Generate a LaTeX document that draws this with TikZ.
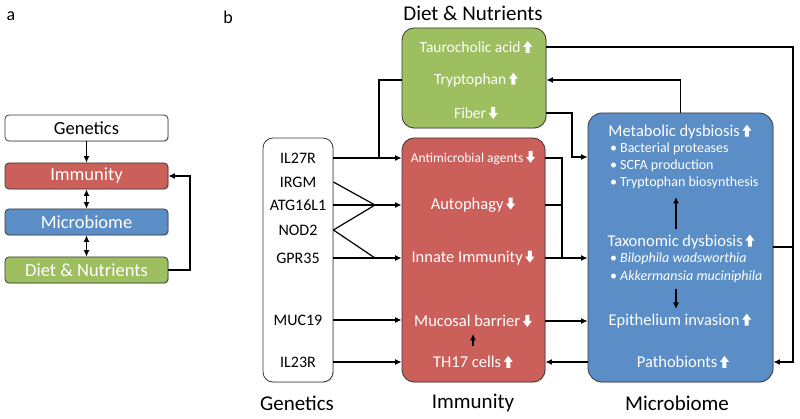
\documentclass[tikz,border=0pt]{standalone}
\usepackage{fontspec}
\setmainfont{Carlito}
\usetikzlibrary{arrows.meta,shadows}
\definecolor{cred}{HTML}{CB5F5A}
\definecolor{cgreen}{HTML}{9DBF5F}
\definecolor{cblue}{HTML}{5B8EC7}
\definecolor{cedge}{HTML}{3A3A3A}
\newcommand{\upA}{\kern2.5pt\tikz[baseline=0pt,x=1pt,y=1pt]\fill[white] (-2,0) -- (-2,6) -- (-4.6,6) -- (0,12) -- (4.6,6) -- (2,6) -- (2,0) -- cycle;}
\newcommand{\dnA}{\kern2.5pt\tikz[baseline=0pt,x=1pt,y=1pt]\fill[white] (-2,12) -- (-2,6) -- (-4.6,6) -- (0,0) -- (4.6,6) -- (2,6) -- (2,12) -- cycle;}
\newcommand{\bulA}{\textbullet\kern3pt}
\begin{document}
\begin{tikzpicture}[x=1pt,y=-1pt,
  box/.style={draw=cedge,line width=0.8pt,inner sep=0pt,
    drop shadow={opacity=0.25,shadow xshift=1pt,shadow yshift=-1pt}},
  abox/.style={box,rounded corners=4pt,minimum width=163pt,minimum height=26pt,
    font=\fontsize{18.5}{20}\selectfont},
  conn/.style={line width=1.2pt,black},
  arr/.style={conn,-{Latex[length=6.5pt,width=6pt]}},
  darr/.style={conn,{Latex[length=6.5pt,width=6pt]}-{Latex[length=6.5pt,width=6pt]}},
  gene/.style={font=\fontsize{16}{18}\selectfont,inner sep=1pt},
  wt/.style={text=white,font=\fontsize{16.5}{18}\selectfont,inner sep=1pt},
  wts/.style={text=white,font=\fontsize{15.5}{17}\selectfont,inner sep=1pt},
  bul/.style={text=white,font=\fontsize{14}{16}\selectfont,inner sep=1pt,anchor=west},
  lab/.style={font=\fontsize{21}{23}\selectfont},
  panel/.style={font=\fontsize{18}{20}\selectfont}]
\useasboundingbox (0,0) rectangle (800,419);

% panel a
\node[panel] (pa) at (11,16) {a};
\node[abox,fill=white] (ga) at (86.5,128) {Genetics};
\node[abox,fill=cred,text=white] (ia) at (86.5,176) {Immunity};
\node[abox,fill=cblue,text=white] (ma) at (86.5,222) {Microbiome};
\node[abox,fill=cgreen,text=white] (da) at (86.5,270) {Diet \& Nutrients};
\draw[arr] (ga) -- (ia);
\draw[darr] (ia) -- (ma);
\draw[darr] (ma) -- (da);
\coordinate (aj) at (190,270);
\draw[arr] (da.east) -- (aj) |- (ia.east);

% panel b
\node[panel] (pb) at (228,17) {b};
\node[lab] (tdiet) at (473,13) {Diet \& Nutrients};
\node[lab] (tgen) at (297,403) {Genetics};
\node[lab] (timm) at (473,403) {Immunity};
\node[lab] (tmic) at (677,403) {Microbiome};

\node[box,fill=cgreen,rounded corners=12pt,minimum width=144pt,minimum height=100pt] (green) at (474,78) {};
\node[box,fill=white,rounded corners=10pt,minimum width=70pt,minimum height=244pt] (gen) at (298,260) {};
\node[box,fill=cred,rounded corners=12pt,minimum width=143pt,minimum height=244pt] (red) at (473.5,260) {};
\node[box,fill=cblue,rounded corners=14pt,minimum width=185pt,minimum height=269pt] (blue) at (680.5,247.5) {};

% green texts
\node[wts] (tauro) at (476,47) {Taurocholic acid\upA};
\node[wts] (tryp) at (476,80) {Tryptophan\upA};
\node[wts] (fiber) at (476,113) {Fiber\dnA};

% genes
\node[gene] (il27r) at (298,158) {IL27R};
\node[gene] (irgm) at (298,182) {IRGM};
\node[gene] (atg) at (298,205) {ATG16L1};
\node[gene] (nod2) at (298,230) {NOD2};
\node[gene] (gpr35) at (298,258) {GPR35};
\node[gene] (muc19) at (298,320) {MUC19};
\node[gene] (il23r) at (298,362) {IL23R};

% immunity texts
\node[text=white,font=\fontsize{13.5}{15}\selectfont,inner sep=1pt] (am) at (473,158) {Antimicrobial agents\dnA};
\node[wt] (auto) at (473,205) {Autophagy\dnA};
\node[wt] (innate) at (473,258) {Innate Immunity\dnA};
\node[wt] (mucosal) at (473,321) {Mucosal barrier\dnA};
\node[wt] (th17) at (473,362) {TH17 cells\upA};

% microbiome texts
\node[wt] (metab) at (680,132) {Metabolic dysbiosis\upA};
\node[bul] (b1) at (609,149) {\bulA Bacterial proteases};
\node[bul] (b2) at (609,166) {\bulA SCFA production};
\node[bul] (b3) at (609,183) {\bulA Tryptophan biosynthesis};
\node[wt] (taxo) at (681,242) {Taxonomic dysbiosis\upA};
\node[bul] (b4) at (609,259) {\bulA\textit{Bilophila wadsworthia}};
\node[bul] (b5) at (609,277) {\bulA\textit{Akkermansia muciniphila}};
\node[wt] (epi) at (680,321) {Epithelium invasion\upA};
\node[wt] (patho) at (683,362) {Pathobionts\upA};

% internal arrows
\coordinate (t1) at (473,346); \coordinate (t2) at (473,334);
\draw[arr] (t1) -- (t2);
\coordinate (m1) at (676,229); \coordinate (m2) at (676,197);
\draw[arr] (m1) -- (m2);
\coordinate (m3) at (676,289); \coordinate (m4) at (676,309);
\draw[arr] (m3) -- (m4);

% genetics -> immunity
\draw[arr] (gen.east |- il27r) -- (red.west |- il27r);
\coordinate (j1) at (379,158);
\draw[conn] (green.west |- tryp) -| (j1);
\coordinate (jA) at (375,205);
\coordinate (jB) at (375,258);
\draw[conn] (gen.east |- irgm) -- (jA);
\draw[conn] (gen.east |- atg) -- (jA);
\draw[conn] (gen.east |- nod2) -- (jA);
\draw[conn] (gen.east |- nod2) -- (jB);
\draw[arr] (jA) -- (red.west |- atg);
\draw[arr] (gen.east |- gpr35) -- (red.west |- gpr35);
\draw[arr] (gen.east |- muc19) -- (red.west |- muc19);
\draw[arr] (gen.east |- il23r) -- (red.west |- il23r);

% immunity -> microbiome
\coordinate (jC) at (562,258);
\coordinate (jD) at (562,205);
\draw[conn] (red.east |- am) -| (jC);
\draw[conn] (red.east |- auto) -- (jD);
\draw[arr] (red.east |- innate) -- (blue.west |- innate);
\draw[arr] (red.east |- mucosal) -- (blue.west |- epi);
\draw[arr] (blue.west |- patho) -- (red.east |- th17);

% diet <-> microbiome
\coordinate (rt) at (793,47);
\draw[arr] (green.east |- tauro) -- (rt) |- (blue.east |- patho);
\coordinate (tx) at (793,247);
\draw[conn] (blue.east |- tx) -- (tx);
\draw[arr] (blue.north) |- (green.east |- tryp);
\coordinate (fb) at (572,157);
\draw[arr] (green.east |- fiber) -| (fb) -- (blue.west |- fb);
\end{tikzpicture}
\end{document}
